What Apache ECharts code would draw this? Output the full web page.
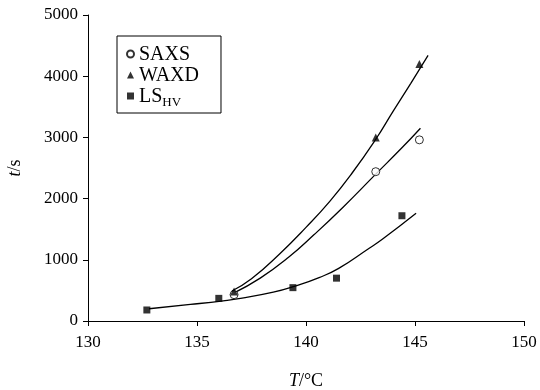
<!DOCTYPE html>
<html>
<head>
<meta charset="utf-8">
<script src="https://cdn.jsdelivr.net/npm/echarts@6/dist/echarts.min.js"></script>
<style>
    html, body { margin: 0; padding: 0; background: #fff; }
    #chart { width: 540px; height: 390px; }
</style>
</head>
<body>
<div id="chart"></div>
<script>
    // measured points [T (°C), t (s)]
    let saxsPoints = [[136.7, 430], [143.2, 2440], [145.2, 2960]];
    let waxdPoints = [[136.7, 480], [143.2, 3000], [145.2, 4200]];
    let lsPoints = [[132.7, 180], [136.0, 370], [139.4, 545], [141.4, 700], [144.4, 1720]];

    // fitted curves
    let saxsFit = [[136.7, 460], [137.9, 700], [139.2, 1040], [140.4, 1420], [141.7, 1860], [143.2, 2400], [144.4, 2830], [145.25, 3150]];
    let waxdFit = [[136.6, 490], [137.5, 690], [138.8, 1100], [140.0, 1530], [141.1, 1960], [142.1, 2410], [143.2, 2970], [144.0, 3430], [144.8, 3880], [145.6, 4340]];
    let lsFit = [[132.8, 200], [134.7, 270], [136.2, 330], [137.0, 370], [138.5, 470], [139.5, 570], [140.6, 710], [141.5, 860], [142.9, 1190], [143.5, 1335], [145.05, 1760]];

    let xTicks = [130, 135, 140, 145, 150];
    let yTicks = [0, 1000, 2000, 3000, 4000, 5000];

    let font = 'Liberation Serif';
    let myChart = echarts.init(document.getElementById('chart'));

    function fitLine(data) {
        return {
            type: 'line',
            data: data,
            smooth: 0.5,
            showSymbol: false,
            silent: true,
            z: 1,
            lineStyle: { color: '#000', width: 1.3 }
        };
    }

    let option = {
        backgroundColor: '#fff',
        animation: false,
        textStyle: { fontFamily: font, color: '#000' },
        grid: { left: 88, right: 16, top: 15, bottom: 69, outerBoundsMode: 'none' },
        legend: {
            left: 117,
            top: 36,
            orient: 'vertical',
            data: ['SAXS', 'WAXD', 'LS'],
            borderColor: '#000',
            borderWidth: 1,
            padding: [9, 22, 4, 9],
            itemWidth: 7,
            itemHeight: 7,
            itemGap: 1,
            textStyle: {
                fontFamily: font,
                fontSize: 20,
                color: '#000',
                rich: {
                    a: { fontFamily: font, fontSize: 20, color: '#000', lineHeight: 18, verticalAlign: 'top' },
                    b: { fontFamily: font, fontSize: 13, color: '#000', lineHeight: 13, verticalAlign: 'top', padding: [9, 0, 0, 0] }
                }
            },
            formatter: function (name) {
                return name === 'LS' ? '{a|LS}{b|HV}' : '{a|' + name + '}';
            }
        },
        xAxis: {
            type: 'value',
            min: xTicks[0],
            max: xTicks[xTicks.length - 1],
            interval: 5,
            name: '{i|T}/°C',
            nameLocation: 'middle',
            nameGap: 51,
            nameTextStyle: {
                fontFamily: font, fontSize: 18, color: '#000',
                rich: { i: { fontFamily: font, fontSize: 18, fontStyle: 'italic', color: '#000' } }
            },
            axisLine: { lineStyle: { color: '#000', width: 1 } },
            axisTick: { inside: false, length: 5, lineStyle: { color: '#000' } },
            axisLabel: { fontFamily: font, fontSize: 17, color: '#000', margin: 13 },
            splitLine: { show: false }
        },
        yAxis: {
            type: 'value',
            min: yTicks[0],
            max: yTicks[yTicks.length - 1],
            interval: 1000,
            name: '{i|t}/s',
            nameLocation: 'middle',
            nameRotate: 90,
            nameGap: 64,
            nameTextStyle: {
                fontFamily: font, fontSize: 18, color: '#000',
                rich: { i: { fontFamily: font, fontSize: 18, fontStyle: 'italic', color: '#000' } }
            },
            axisLine: { show: true, lineStyle: { color: '#000', width: 1 } },
            axisTick: { show: true, inside: false, length: 5, lineStyle: { color: '#000' } },
            axisLabel: {
                fontFamily: font, fontSize: 17, color: '#000', margin: 10,
                formatter: function (v) { return String(v); }
            },
            splitLine: { show: false }
        },
        series: [
            fitLine(saxsFit),
            fitLine(waxdFit),
            fitLine(lsFit),
            {
                name: 'SAXS',
                type: 'scatter',
                data: saxsPoints,
                symbol: 'circle',
                symbolSize: 8,
                z: 3,
                itemStyle: { color: '#fff', borderColor: '#000', borderWidth: 1 }
            },
            {
                name: 'WAXD',
                type: 'scatter',
                data: waxdPoints,
                symbol: 'triangle',
                symbolSize: 8,
                z: 3,
                itemStyle: { color: '#000' }
            },
            {
                name: 'LS',
                type: 'scatter',
                data: lsPoints,
                symbol: 'rect',
                symbolSize: 7,
                z: 3,
                itemStyle: { color: '#000' }
            }
        ]
    };
    myChart.setOption(option);
</script>
</body>
</html>
